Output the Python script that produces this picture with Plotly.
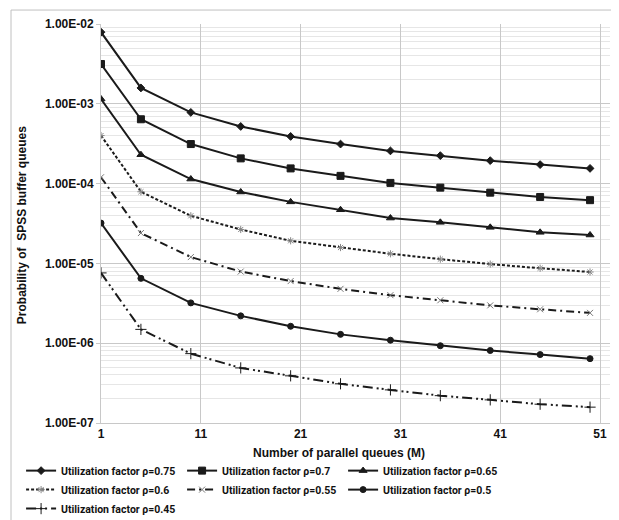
import plotly.graph_objects as go

M = [1, 5, 10, 15, 20, 25, 30, 35, 40, 45, 50]
rho_075 = [7.9e-3, 1.58e-3, 7.8e-4, 5.2e-4, 3.9e-4, 3.13e-4, 2.57e-4, 2.24e-4, 1.94e-4, 1.73e-4, 1.55e-4]
rho_070 = [3.15e-3, 6.4e-4, 3.13e-4, 2.07e-4, 1.55e-4, 1.25e-4, 1.02e-4, 8.9e-5, 7.7e-5, 6.8e-5, 6.2e-5]
rho_065 = [1.15e-3, 2.3e-4, 1.14e-4, 7.85e-5, 5.9e-5, 4.7e-5, 3.7e-5, 3.27e-5, 2.83e-5, 2.45e-5, 2.27e-5]
rho_060 = [4.0e-4, 7.9e-5, 3.95e-5, 2.66e-5, 1.92e-5, 1.58e-5, 1.32e-5, 1.13e-5, 9.8e-6, 8.7e-6, 7.8e-6]
rho_055 = [1.2e-4, 2.4e-5, 1.2e-5, 7.9e-6, 6.0e-6, 4.8e-6, 4.0e-6, 3.45e-6, 2.98e-6, 2.66e-6, 2.4e-6]
rho_050 = [3.2e-5, 6.5e-6, 3.2e-6, 2.2e-6, 1.63e-6, 1.29e-6, 1.09e-6, 9.3e-7, 8.1e-7, 7.2e-7, 6.4e-7]
rho_045 = [7.6e-6, 1.49e-6, 7.4e-7, 4.9e-7, 3.9e-7, 3.1e-7, 2.6e-7, 2.2e-7, 1.95e-7, 1.72e-7, 1.58e-7]

names = ["Utilization factor \u03c1=0.75", "Utilization factor \u03c1=0.7", "Utilization factor \u03c1=0.65",
         "Utilization factor \u03c1=0.6", "Utilization factor \u03c1=0.55", "Utilization factor \u03c1=0.5",
         "Utilization factor \u03c1=0.45"]
series = [rho_075, rho_070, rho_065, rho_060, rho_055, rho_050, rho_045]

x_ticks = [1, 11, 21, 31, 41, 51]
y_ticks = [1e-7, 1e-6, 1e-5, 1e-4, 1e-3, 1e-2]
y_ticktext = ["1.00E-07", "1.00E-06", "1.00E-05", "1.00E-04", "1.00E-03", "1.00E-02"]

styles = [
    dict(dash="solid", symbol="diamond", size=6, mcolor="#1a1a1a"),
    dict(dash="solid", symbol="square", size=7, mcolor="#1a1a1a"),
    dict(dash="solid", symbol="triangle-up", size=7, mcolor="#1a1a1a"),
    dict(dash="3px,2px", symbol="asterisk-open", size=6, mcolor="#888888"),
    dict(dash="8px,4px,2px,4px", symbol="x-thin-open", size=6, mcolor="#777777"),
    dict(dash="solid", symbol="circle", size=6, mcolor="#1a1a1a"),
    dict(dash="10px,4px,2px,3px,2px,4px", symbol="cross-thin-open", size=8, mcolor="#1a1a1a"),
]

FONT = "Liberation Sans, Arial, sans-serif"
LFONT = "Roboto, Liberation Sans, Arial, sans-serif"
TXT = "#111111"

fig = go.Figure()
for name, ys, st in zip(names, series, styles):
    fig.add_trace(go.Scatter(
        x=M, y=ys, name=name, mode="lines+markers",
        line=dict(color="#1a1a1a", width=2, dash=st["dash"]),
        marker=dict(symbol=st["symbol"], size=st["size"], color=st["mcolor"],
                    line=dict(color=st["mcolor"], width=1)),
    ))

minor_vals = [k * 10 ** e for e in range(-7, -2) for k in range(2, 10)]

# the page body adds an 8px margin, so the figure is 8px smaller than the window
fig.update_layout(
    template="none",
    width=611, height=512,
    margin=dict(l=93, r=9, t=16, b=97, autoexpand=False),
    paper_bgcolor="white", plot_bgcolor="white",
    font=dict(family=FONT, size=12, color=TXT),
    showlegend=True,
    legend=dict(orientation="h", x=-0.157, y=-0.083, xanchor="left", yanchor="top",
                entrywidth=116, entrywidthmode="pixels", itemwidth=30,
                font=dict(family=LFONT, size=10.5, color=TXT, weight="bold"),
                tracegroupgap=0, bgcolor="rgba(0,0,0,0)", borderwidth=0),
    xaxis=dict(range=[1, 52], tickmode="array", tickvals=x_ticks, automargin=False,
               showgrid=True, gridcolor="#c8c8c8", gridwidth=1,
               showline=True, linecolor="#c8c8c8", linewidth=1,
               ticks="", zeroline=False,
               tickfont=dict(family=FONT, size=12, color=TXT, weight="bold")),
    yaxis=dict(type="log", range=[-7, -2], tickmode="array", tickvals=y_ticks, ticktext=y_ticktext,
               automargin=False,
               showgrid=True, gridcolor="#c8c8c8", gridwidth=1,
               showline=True, linecolor="#c8c8c8", linewidth=1,
               ticks="outside", ticklen=4, tickcolor="#c8c8c8", zeroline=False,
               tickfont=dict(family=FONT, size=12, color=TXT, weight="bold"),
               minor=dict(tickmode="array", tickvals=minor_vals, showgrid=True,
                          gridcolor="#e6e6e6", gridwidth=1, ticks="")),
    annotations=[
        dict(text="Probability of  SPSS buffer queues", textangle=-90, xref="paper", yref="paper",
             x=-0.155, y=0.496, xanchor="center", yanchor="middle", showarrow=False,
             font=dict(family=FONT, size=12, color=TXT, weight="bold")),
        dict(text="Number of parallel queues (M)", xref="paper", yref="paper",
             x=0.4676, y=-0.075, xanchor="center", yanchor="middle", showarrow=False,
             font=dict(family=FONT, size=12, color=TXT, weight="bold")),
    ],
    shapes=[
        dict(type="rect", xref="paper", yref="paper", x0=-0.1768, x1=1.004, y0=-0.27, y1=1.035,
             line=dict(color="#c0c0c0", width=1), fillcolor="rgba(0,0,0,0)", layer="below"),
    ],
)

fig.write_html("out.html")
